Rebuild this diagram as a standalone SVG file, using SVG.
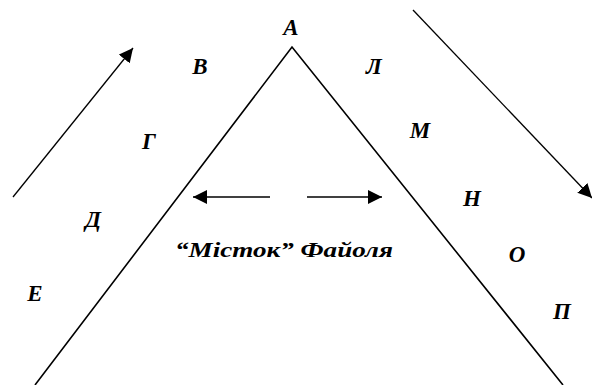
<svg xmlns="http://www.w3.org/2000/svg" width="592" height="385" viewBox="0 0 592 385">
<style>
.l{stroke:#000;stroke-width:1.6;fill:none}
.a{stroke:#000;stroke-width:1.3;fill:none}
text{font-family:"Liberation Serif","DejaVu Serif",serif;font-style:italic;font-weight:bold;font-size:23px;fill:#000;text-anchor:middle}
.c{font-size:21px;text-anchor:start}
</style>
<defs>
<marker id="ah" viewBox="0 0 10 10" refX="10" refY="5" markerWidth="14" markerHeight="14" markerUnits="userSpaceOnUse" orient="auto">
<path d="M0,0 L10,5 L0,10 Z" fill="#000"/>
</marker>
</defs>
<g id="connectors">
<path class="l" d="M35,385 L292,47 L563,385"/>
<line class="a" x1="13" y1="197" x2="133" y2="48" marker-end="url(#ah)"/>
<line class="a" x1="413" y1="10" x2="592" y2="198" marker-end="url(#ah)"/>
<line class="l" x1="270" y1="197" x2="193" y2="197" marker-end="url(#ah)"/>
<line class="l" x1="307" y1="197" x2="382" y2="197" marker-end="url(#ah)"/>
</g>
<g id="A"><text x="291" y="35">А</text></g>
<g id="B"><text x="200" y="74">В</text></g>
<g id="G"><text x="149" y="149">Г</text></g>
<g id="D"><text x="93" y="227">Д</text></g>
<g id="E"><text x="35" y="301">Е</text></g>
<g id="L"><text x="374" y="74">Л</text></g>
<g id="M"><text x="420" y="138">М</text></g>
<g id="N"><text x="472" y="206">Н</text></g>
<g id="O"><text x="517" y="262">О</text></g>
<g id="P"><text x="562" y="319">П</text></g>
<g id="caption"><text class="c" x="175" y="257" textLength="218" lengthAdjust="spacingAndGlyphs">“Місток” Файоля</text></g>
</svg>
